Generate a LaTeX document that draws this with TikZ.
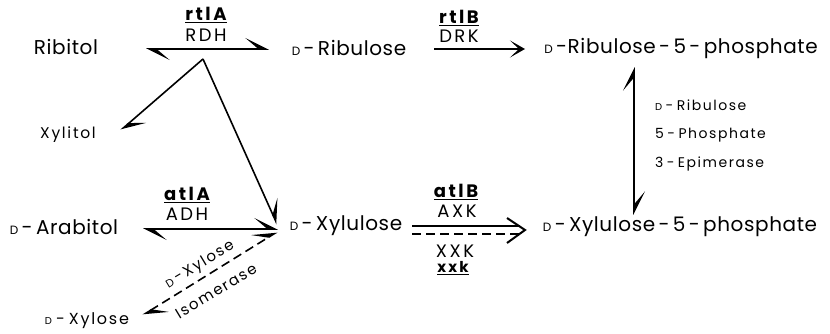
\documentclass[tikz,border=0pt]{standalone}
\usepackage{fontspec}
\setmainfont{Poppins}[LetterSpace=3]
\newfontfamily\enzfont{Poppins}[LetterSpace=14]
\newfontfamily\notefont{Poppins}[LetterSpace=11]
\usetikzlibrary{arrows.meta}

% small capital D used as the configuration prefix
\newcommand\smD[1]{{\fontsize{#1}{#1}\selectfont D}}
% spaced hyphen of the side labels
\newcommand\sh{\hspace{0.25em}-\hspace{0.25em}}

\tikzset{
  x=1pt, y=-1pt,
  every node/.style={inner sep=0pt, outer sep=0pt},
  cpd/.style={font=\fontsize{20}{22}\selectfont},
  minor/.style={font=\notefont\fontsize{15.5}{17}\selectfont},
  enz/.style={font=\enzfont\fontsize{18}{19}\selectfont},
  note/.style={font=\notefont\fontsize{14}{15}\selectfont, anchor=west},
  slant/.style={font=\notefont\fontsize{15}{16}\selectfont, rotate=31},
  rxn/.style={line width=1.6pt},
  barb/.tip={Stealth[harpoon, length=22pt, width=22pt, inset=13pt]},
  both/.style={rxn, barb-barb},
  fwd/.style={rxn, -{Stealth[length=15pt, width=17pt, inset=9pt]}},
}
\newcommand\gene[1]{\underline{\bfseries #1}}

\begin{document}
\begin{tikzpicture}
\useasboundingbox (0,0) rectangle (830,334);

% compounds
\node[cpd]   (rib) at (66,47)   {Ribitol};
\node[cpd]   (rbu) at (349,48)  {\smD{12}\,-\,Ribulose};
\node[cpd]   (r5p) at (681,48)  {\smD{12}\,-Ribulose\,-\,5\,-\,phosphate};
\node[minor] (xyl) at (68,135)  {Xylitol};
\node[cpd]   (ara) at (64,227)  {\smD{12}\,-\,Arabitol};
\node[cpd]   (xlu) at (346,226) {\smD{12}\,-\,Xylulose};
\node[cpd]   (x5p) at (680,227) {\smD{12}\,-\,Xylulose\,-\,5\,-\,phosphate};
\node[minor, font=\notefont\fontsize{16}{17}\selectfont] (xyo) at (87,321) {\smD{10}\sh Xylose};

% arrow end points
\coordinate (a1) at (146,49);  \coordinate (a2) at (269,49);
\coordinate (br) at (203,59);
\coordinate (xt) at (121,130); \coordinate (ut) at (277,224);
\coordinate (b1) at (434,49);  \coordinate (b2) at (525,49);
\coordinate (v1) at (634,67);  \coordinate (v2) at (634,215);
\coordinate (c1) at (143,229); \coordinate (c2) at (278,229);
\coordinate (d1) at (143,315); \coordinate (d2) at (277,232);
\coordinate (k1) at (412,226); \coordinate (k2) at (520,226);
\coordinate (k3) at (412,234); \coordinate (k4) at (520,234);
\coordinate (kt) at (525,230);
\coordinate (ka) at (507,218); \coordinate (kb) at (507,243);

% reactions
\draw[both] (a1) -- (a2);
\draw[rxn, -barb] (br) -- (xt);
\draw[rxn, -barb] (br) -- (ut);
\draw[fwd] (b1) -- (b2);
\draw[both] (v2) -- (v1);
\draw[both] (c1) -- (c2);
\draw[both, dash pattern=on 9pt off 5pt] (d1) -- (d2);
\draw[rxn] (k1) -- (k2);
\draw[rxn, dash pattern=on 9pt off 5pt] (k3) -- (k4);
\draw[rxn, line width=2pt, miter limit=10] (ka) -- (kt) -- (kb);

% enzymes and genes
\node[enz] (g1) at (206,15)  {\gene{rtlA}};
\node[enz] (e1) at (206,35)  {RDH};
\node[enz] (g2) at (459,18)  {\gene{rtlB}};
\node[enz] (e2) at (459,36)  {DRK};
\node[enz] (g3) at (187,195) {\gene{atlA}};
\node[enz] (e3) at (187,214) {ADH};
\node[enz] (g4) at (456,192) {\gene{atlB}};
\node[enz] (e4) at (457,211) {AXK};
\node[enz] (e5) at (455,251) {XXK};
\node[enz, font=\enzfont\fontsize{15}{16}\selectfont] (g5) at (453,268) {\gene{xxk}};

\node[note] (n1) at (655,105) {\smD{10}\sh Ribulose};
\node[note] (n2) at (655,135) {5\sh Phosphate};
\node[note] (n3) at (655,164) {3\sh Epimerase};

\node[slant] (i1) at (200,265) {\smD{11}\,-\,Xylose};
\node[slant] (i2) at (216,291) {Isomerase};
\end{tikzpicture}
\end{document}
